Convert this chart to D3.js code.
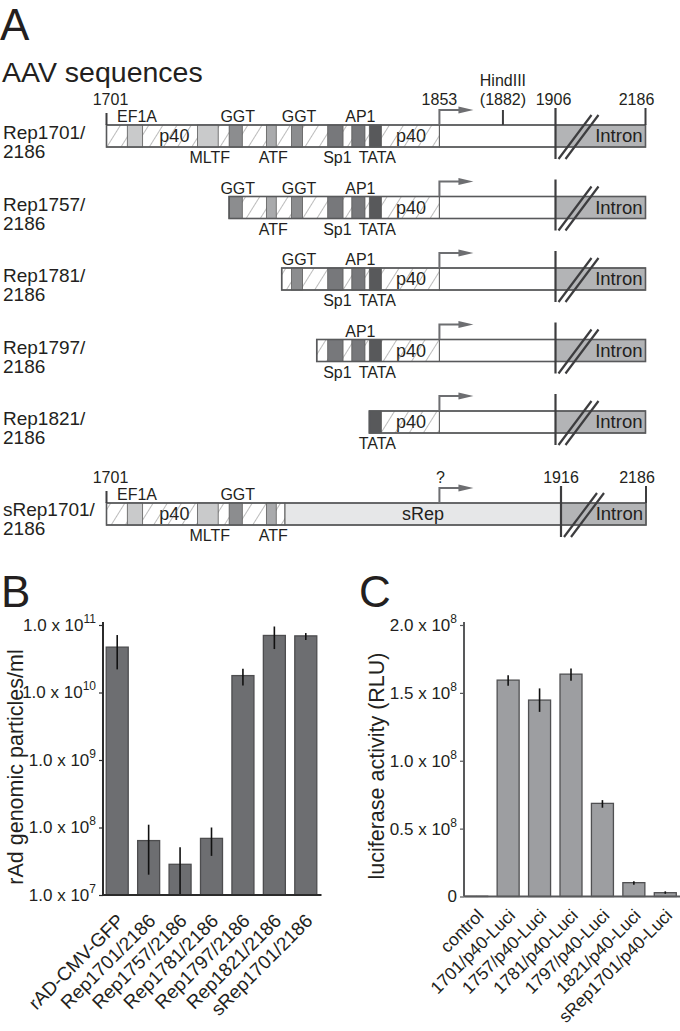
<!DOCTYPE html>
<html>
<head>
<meta charset="utf-8">
<script src="https://cdn.jsdelivr.net/npm/d3@7"></script>
<style>
  body { margin: 0; background: #fff; }
  svg text { font-family: "Liberation Sans", Arial, Helvetica, sans-serif; fill: #231f20; }
</style>
</head>
<body>
<svg id="fig" width="680" height="1031"></svg>
<script>
// ---------- panel A: AAV constructs (nucleotide positions) ----------
var rowNames = ["Rep1701/", "Rep1757/", "Rep1781/", "Rep1797/", "Rep1821/"];
var rowStarts = [1701, 1757, 1781, 1797, 1821];
var elemNames = ["EF1A", "MLTF", "GGT", "ATF", "GGT", "Sp1", "AP1", "TATA"];
var elemStart = [1710.5, 1742.5, 1757, 1774, 1785.5, 1802, 1813, 1821];
var elemEnd   = [1717.5, 1752, 1763, 1778.5, 1790.5, 1809, 1819, 1826.5];
var elemSide  = ["top", "bottom", "top", "bottom", "top", "bottom", "top", "bottom"];
var elemKind  = ["light", "light", "mid", "pale", "mid", "dark", "dark", "darkest"];
var p40Pos = [1732, 1840];
var tssPos = 1853, hindPos = 1882, intronPos = 1906, endPos = 2186;
var sRepStart = 1782.5, sRepIntron = 1916;

// ---------- panel B: rAd genomic particles ----------
var bNames = ["rAD-CMV-GFP", "Rep1701/2186", "Rep1757/2186", "Rep1781/2186", "Rep1797/2186", "Rep1821/2186", "sRep1701/2186"];
var bMean = [4.7e10, 6.4e7, 2.85e7, 6.9e7, 1.78e10, 7.0e10, 6.9e10];
var bLow  = [2.2e10, 2.0e7, 1.0e7, 3.8e7, 1.27e10, 4.4e10, 6.0e10];
var bHigh = [7.1e10, 1.1e8, 5.1e7, 1.0e8, 2.24e10, 9.5e10, 7.6e10];
var bTicks = [1e7, 1e8, 1e9, 1e10, 1e11];

// ---------- panel C: luciferase ----------
var cNames = ["control", "1701/p40-Luci", "1757/p40-Luci", "1781/p40-Luci", "1797/p40-Luci", "1821/p40-Luci", "sRep1701/p40-Luci"];
var cMean = [0.002e8, 1.594e8, 1.447e8, 1.638e8, 0.686e8, 0.102e8, 0.028e8];
var cLow  = [0.0005e8, 1.552e8, 1.36e8, 1.589e8, 0.654e8, 0.087e8, 0.02e8];
var cHigh = [0.004e8, 1.63e8, 1.533e8, 1.68e8, 0.71e8, 0.112e8, 0.038e8];
var cTicks = [0, 0.5e8, 1e8, 1.5e8, 2e8];
var cTickText = ["0", "0.5 x 10", "1.0 x 10", "1.5 x 10", "2.0 x 10"];

var svg = d3.select("#fig");
var ink = "#3d3d3f";
var kindFill = { light: "#c9cacb", pale: "#a9aaac", mid: "#8c8d8f", dark: "#77787b", darkest: "#58595b" };

var defs = svg.append("defs");
var hatch = defs.append("pattern").attr("id", "hatch")
  .attr("patternUnits", "userSpaceOnUse")
  .attr("width", 12).attr("height", 12)
  .attr("patternTransform", "rotate(32)");
hatch.append("line").attr("x1", 0).attr("y1", 0).attr("x2", 0).attr("y2", 12)
  .attr("stroke", "#6a6a6a").attr("stroke-width", 0.9);

// panel letters
svg.append("text").attr("x", 0).attr("y", 40).attr("font-size", 44).text("A");
svg.append("text").attr("x", 2).attr("y", 82).attr("font-size", 28.5).text("AAV sequences");
svg.append("text").attr("x", 1).attr("y", 607).attr("font-size", 44).text("B");
svg.append("text").attr("x", 359).attr("y", 607).attr("font-size", 44).text("C");

var barH = 22;
var x = d3.scaleLinear().domain([1701, intronPos, endPos]).range([106.5, 555.5, 645.5]);
var xs = d3.scaleLinear().domain([1701, tssPos, sRepIntron, endPos]).range([106.5, 439.4, 561, 646]);
var rowY = d3.scaleLinear().domain([0, 4]).range([125, 411]);

function drawRow(top, start, sc, hatchEnd, breakPos, isSRep) {
  var g = svg.append("g");
  // promoter base, label, then hatching on top
  g.append("rect").attr("x", sc(start)).attr("y", top)
    .attr("width", sc(hatchEnd) - sc(start)).attr("height", barH)
    .attr("fill", "#fff");
  if (!isSRep) {
    p40Pos.forEach(function(p) {
      if (p < start) return;
      g.append("text").attr("x", sc(p)).attr("y", top + 17)
        .attr("text-anchor", "middle").attr("font-size", 18).text("p40");
    });
  } else {
    g.append("text").attr("x", sc(p40Pos[0])).attr("y", top + 17)
      .attr("text-anchor", "middle").attr("font-size", 18).text("p40");
  }
  g.append("rect").attr("x", sc(start)).attr("y", top)
    .attr("width", sc(hatchEnd) - sc(start)).attr("height", barH)
    .attr("fill", "url(#hatch)").attr("stroke", "#5a5a5a").attr("stroke-width", 1);
  // middle part
  g.append("rect").attr("x", sc(hatchEnd)).attr("y", top)
    .attr("width", sc(breakPos) - sc(hatchEnd)).attr("height", barH)
    .attr("fill", isSRep ? "#e6e7e8" : "#fff").attr("stroke", "#5a5a5a").attr("stroke-width", 1);
  // intron
  g.append("rect").attr("x", sc(breakPos)).attr("y", top)
    .attr("width", sc(endPos) - sc(breakPos)).attr("height", barH)
    .attr("fill", "#b3b4b6").attr("stroke", "#5a5a5a").attr("stroke-width", 1);

  elemNames.forEach(function(n, i) {
    if (elemStart[i] < start || elemEnd[i] > hatchEnd) return;
    g.append("rect").attr("x", sc(elemStart[i])).attr("y", top)
      .attr("width", sc(elemEnd[i]) - sc(elemStart[i])).attr("height", barH)
      .attr("fill", kindFill[elemKind[i]]).attr("stroke", "#5a5a5a").attr("stroke-width", 0.8);
    var cx = (sc(elemStart[i]) + sc(elemEnd[i])) / 2 + 2;
    g.append("text").attr("x", cx)
      .attr("y", elemSide[i] == "top" ? top - 3 : top + barH + 16)
      .attr("text-anchor", "middle").attr("font-size", 16).text(n);
  });

  g.append("rect").attr("x", sc(start)).attr("y", top)
    .attr("width", sc(endPos) - sc(start)).attr("height", barH)
    .attr("fill", "none").attr("stroke", "#58595b").attr("stroke-width", 1.6);

  if (isSRep) {
    g.append("text").attr("x", (sc(hatchEnd) + sc(breakPos)) / 2).attr("y", top + 17)
      .attr("text-anchor", "middle").attr("font-size", 18).text("sRep");
  }
  g.append("text").attr("x", sc(endPos) - 3).attr("y", top + 17)
    .attr("text-anchor", "end").attr("font-size", 18.5).text("Intron");

  // transcription start arrow
  var ax = x(tssPos);
  g.append("path").attr("d", "M" + ax + "," + top + "V" + (top - 15) + "H" + (ax + 22))
    .attr("fill", "none").attr("stroke", "#6d6e71").attr("stroke-width", 2);
  g.append("path").attr("d", "M" + (ax + 19) + "," + (top - 18.5) + "L" + (ax + 34) + "," + (top - 15) + "L" + (ax + 19) + "," + (top - 11.5) + "Z")
    .attr("fill", "#6d6e71");

  // intron boundary and break mark
  var bx = sc(breakPos);
  g.append("line").attr("x1", bx).attr("x2", bx).attr("y1", top - 17).attr("y2", top + barH + 12)
    .attr("stroke", ink).attr("stroke-width", 2.2);
  [3, 10].forEach(function(o) {
    g.append("line").attr("x1", bx + o).attr("y1", top + barH + 12)
      .attr("x2", bx + o + 33).attr("y2", top - 10)
      .attr("stroke", ink).attr("stroke-width", 2.2);
  });
  return g;
}

rowNames.forEach(function(name, i) {
  var top = rowY(i);
  drawRow(top, rowStarts[i], x, tssPos, intronPos, false);
  var t = svg.append("text").attr("font-size", 19);
  t.append("tspan").attr("x", 3).attr("y", top + 14).text(name);
  t.append("tspan").attr("x", 3).attr("y", top + 33).text("2186");
});

// top coordinates of first construct
var top1 = rowY(0);
svg.append("line").attr("x1", x(1701)).attr("x2", x(1701)).attr("y1", top1 - 12).attr("y2", top1)
  .attr("stroke", ink).attr("stroke-width", 2);
svg.append("line").attr("x1", x(hindPos)).attr("x2", x(hindPos)).attr("y1", top1 - 15).attr("y2", top1)
  .attr("stroke", ink).attr("stroke-width", 2);
svg.append("line").attr("x1", x(endPos)).attr("x2", x(endPos)).attr("y1", top1 - 17).attr("y2", top1)
  .attr("stroke", ink).attr("stroke-width", 2);
[[x(1701) + 4, "1701"], [x(tssPos), "1853"], [x(hindPos), "(1882)"], [x(intronPos) - 2, "1906"], [x(endPos) - 9, "2186"]]
  .forEach(function(l) {
    svg.append("text").attr("x", l[0]).attr("y", top1 - 20).attr("text-anchor", "middle")
      .attr("font-size", 16).text(l[1]);
  });
svg.append("text").attr("x", x(hindPos)).attr("y", top1 - 39).attr("text-anchor", "middle")
  .attr("font-size", 16).text("HindIII");

// sRep construct
var topS = 503;
drawRow(topS, 1701, xs, sRepStart, sRepIntron, true);
var ts = svg.append("text").attr("font-size", 19);
ts.append("tspan").attr("x", 3).attr("y", topS + 13).text("sRep1701/");
ts.append("tspan").attr("x", 3).attr("y", topS + 32).text("2186");
svg.append("line").attr("x1", xs(1701)).attr("x2", xs(1701)).attr("y1", topS - 12).attr("y2", topS)
  .attr("stroke", ink).attr("stroke-width", 2);
svg.append("line").attr("x1", xs(endPos)).attr("x2", xs(endPos)).attr("y1", topS - 17).attr("y2", topS)
  .attr("stroke", ink).attr("stroke-width", 2);
[[xs(1701) + 4, "1701"], [x(tssPos) + 1, "?"], [xs(sRepIntron), "1916"], [xs(endPos) - 9, "2186"]]
  .forEach(function(l) {
    svg.append("text").attr("x", l[0]).attr("y", topS - 20).attr("text-anchor", "middle")
      .attr("font-size", 16).text(l[1]);
  });

// ---------- bar chart helper ----------
function barChart(opt) {
  var g = svg.append("g");
  var xb = d3.scaleBand().domain(opt.names).range(opt.xRange).paddingInner(0.3).paddingOuter(0.15);
  var y = opt.y;
  var y0 = y.range()[0];

  g.selectAll("rect.bar").data(opt.names).enter().append("rect")
    .attr("x", function(d) { return xb(d); })
    .attr("width", xb.bandwidth())
    .attr("y", function(d, i) { return y(opt.mean[i]); })
    .attr("height", function(d, i) { return y0 - y(opt.mean[i]); })
    .attr("fill", opt.fill).attr("stroke", opt.stroke).attr("stroke-width", 1.3);

  g.selectAll("line.err").data(opt.names).enter().append("line")
    .attr("x1", function(d) { return xb(d) + xb.bandwidth() / 2; })
    .attr("x2", function(d) { return xb(d) + xb.bandwidth() / 2; })
    .attr("y1", function(d, i) { return y(opt.low[i]); })
    .attr("y2", function(d, i) { return y(opt.high[i]); })
    .attr("stroke", "#111").attr("stroke-width", 1.6);

  var ax = g.append("g").attr("transform", "translate(" + opt.axisX + ",0)")
    .call(d3.axisLeft(y).tickValues(opt.ticks).tickSize(4).tickSizeOuter(0).tickPadding(3).tickFormat(function() { return ""; }));
  ax.attr("font-size", 17).attr("font-family", null);
  ax.select(".domain").attr("stroke", opt.axisColor).attr("stroke-width", 2)
    .attr("d", "M0," + (y.range()[1] - 3) + "V" + y0);
  ax.selectAll(".tick line").attr("stroke", opt.axisColor).attr("stroke-width", 1.2);
  ax.selectAll(".tick text").each(function(d, i) {
    var t = d3.select(this).attr("fill", "#231f20");
    t.append("tspan").text(opt.tickText(d, i));
    var sup = opt.tickSup(d, i);
    if (sup) t.append("tspan").attr("dy", -8).attr("font-size", 12).text(sup);
  });

  g.append("line").attr("x1", opt.axisX).attr("x2", opt.xRange[1]).attr("y1", y0).attr("y2", y0)
    .attr("stroke", opt.axisColor).attr("stroke-width", 2);

  g.selectAll("text.lab").data(opt.names).enter().append("text")
    .attr("text-anchor", "end").attr("font-size", opt.labSize)
    .attr("transform", function(d) {
      return "translate(" + (xb(d) + xb.bandwidth() / 2 + 8) + "," + (y0 + opt.labDy) + ") rotate(-45)";
    })
    .text(function(d) { return d; });

  g.append("text").attr("text-anchor", "middle").attr("font-size", 21.5)
    .attr("transform", "translate(" + opt.titleX + "," + opt.titleY + ") rotate(-90)")
    .text(opt.title);
}

barChart({
  names: bNames, mean: bMean, low: bLow, high: bHigh, ticks: bTicks,
  y: d3.scaleLog().domain([1e7, 1e11]).range([895, 625]),
  xRange: [101.5, 321.5], axisX: 103,
  fill: "#6d6e71", stroke: "#4d4d4f", axisColor: "#2b2b2b",
  tickText: function() { return "1.0 x 10"; },
  tickSup: function(d) { return String(Math.round(Math.log10(d))); },
  labSize: 19, labDy: 27,
  title: "rAd genomic particles/ml", titleX: 23, titleY: 767
});

barChart({
  names: cNames, mean: cMean, low: cLow, high: cHigh, ticks: cTicks,
  y: d3.scaleLinear().domain([0, 2e8]).range([896.5, 625]),
  xRange: [461, 681], axisX: 464,
  fill: "#9d9ea1", stroke: "#505052", axisColor: "#58595b",
  tickText: function(d, i) { return cTickText[i]; },
  tickSup: function(d) { return d === 0 ? "" : "8"; },
  labSize: 17.5, labDy: 20,
  title: "luciferase activity (RLU)", titleX: 384, titleY: 766
});
</script>
</body>
</html>
